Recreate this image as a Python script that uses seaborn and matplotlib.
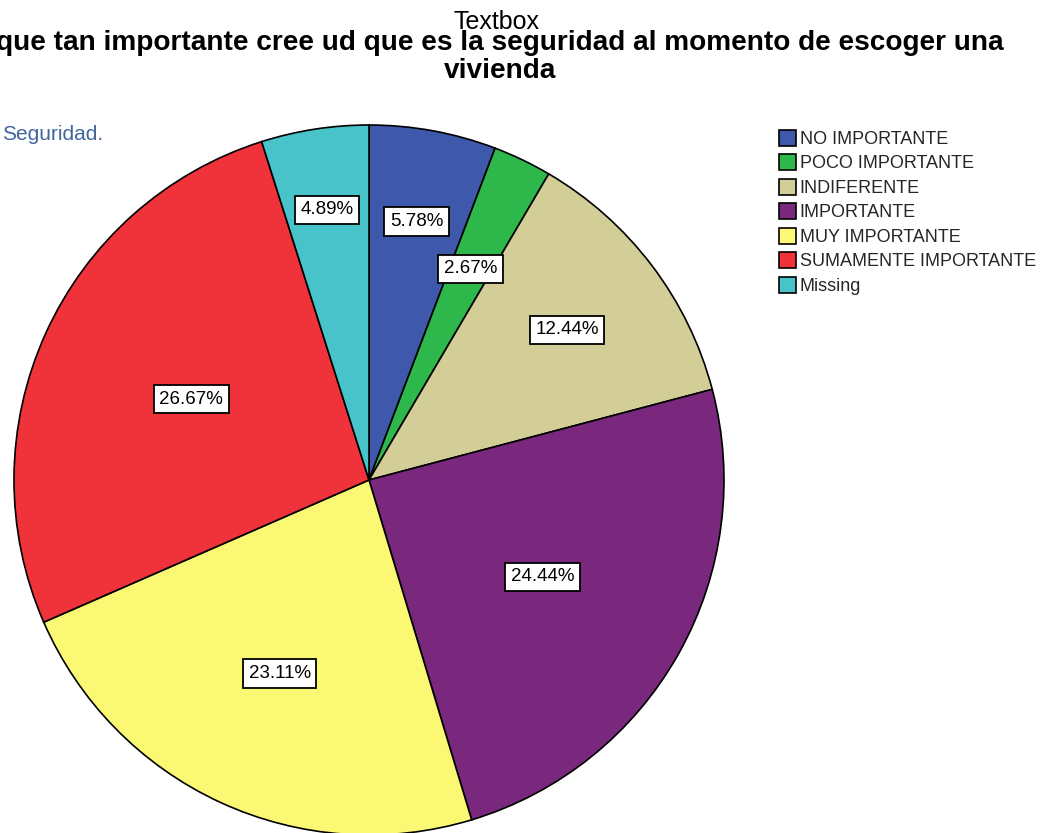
# -*- coding: utf-8 -*-
"""
Pie chart: importancia de la seguridad al escoger vivienda (SPSS style)
"""

import matplotlib
matplotlib.use("Agg")
import matplotlib.pyplot as plt
from matplotlib.patches import Patch
import numpy as np
import seaborn as sns

# data
categories = ["NO IMPORTANTE", "POCO IMPORTANTE", "INDIFERENTE", "IMPORTANTE",
              "MUY IMPORTANTE", "SUMAMENTE IMPORTANTE", "Missing"]
percentages = [5.78, 2.67, 12.44, 24.44, 23.11, 26.67, 4.89]
slice_colors = ["#3E58AC", "#2EB84B", "#D3CE97", "#79287D", "#FBF873", "#F0323A", "#48C3CA"]

# radial position of each percentage box (fraction of radius)
label_radius = [0.74, 0.66, 0.70, 0.56, 0.60, 0.55, 0.77]

sns.set_theme(style="white")
plt.rcParams["font.family"] = ["Liberation Sans", "DejaVu Sans"]

W, H = 1042, 833
fig = plt.figure(figsize=(W / 100, H / 100), dpi=100)

# pie axes: centre (369, 480) px, radius 355 px
cx, cy, r = 369, 480, 355
ax = fig.add_axes([(cx - r) / W, (H - cy - r) / H, 2 * r / W, 2 * r / H])

palette = sns.color_palette(slice_colors)
wedges, _ = ax.pie(percentages, colors=palette, startangle=90, counterclock=False,
                   radius=1.0, wedgeprops=dict(edgecolor="black", linewidth=1.2))
ax.set_xlim(-1, 1)
ax.set_ylim(-1, 1)
ax.set_aspect("auto")
ax.axis("off")
for w in wedges:
    w.set_clip_on(False)

# percentage labels in white boxes
for w, pct, lr in zip(wedges, percentages, label_radius):
    mid = np.deg2rad((w.theta1 + w.theta2) / 2)
    ax.text(lr * np.cos(mid), lr * np.sin(mid), f"{pct:.2f}%",
            ha="center", va="center", fontsize=13.5, color="black",
            bbox=dict(boxstyle="square,pad=0.3", facecolor="white",
                      edgecolor="black", linewidth=1.3))

# titles
fig.text(500 / W, 1 - 57 / H,
         "que tan importante cree ud que es la seguridad al momento de escoger una\nvivienda",
         ha="center", va="center", fontsize=20.2, fontweight="bold",
         color="black", linespacing=1.07)
fig.text(497 / W, 1 - 22 / H, "Textbox", ha="center", va="center",
         fontsize=18, color="black")
fig.text(2 / W, 1 - 134 / H, "Seguridad.", ha="left", va="center",
         fontsize=15, color="#41669C")

# legend
handles = [Patch(facecolor=c, edgecolor="black", linewidth=1.2) for c in palette]
fig.legend(handles, categories, loc="upper left",
           bbox_to_anchor=(779 / W, 1 - 130 / H), frameon=False,
           fontsize=13, borderaxespad=0, borderpad=0,
           handlelength=0.95, handleheight=0.95, handletextpad=0.2,
           labelspacing=0.36)

fig.savefig("out.png", dpi=100)
